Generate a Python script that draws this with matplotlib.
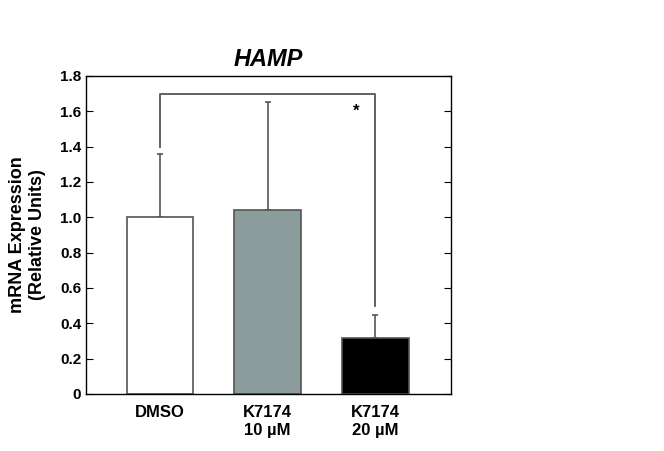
import numpy as np
import matplotlib.pyplot as plt

plt.rcParams['font.family'] = ['Liberation Sans', 'DejaVu Sans']
plt.rcParams['font.weight'] = 'bold'

labels = ['DMSO', 'K7174\n10 \u00b5M', 'K7174\n20 \u00b5M']
values = [1.0, 1.04, 0.315]
errors = [0.36, 0.61, 0.13]
colors = ['white', '#8c9c9c', 'black']

fig = plt.figure(figsize=(6.64, 4.51), dpi=100)
ax = fig.add_axes([0.1295, 0.1264, 0.5495, 0.7051])
x = np.arange(len(values))
ax.bar(x, values, width=0.62, color=colors, edgecolor='#555555', linewidth=1.2, zorder=2)
ax.errorbar(x, values, yerr=[np.zeros(3), errors], fmt='none', ecolor='#555555',
            elinewidth=1.2, capsize=2, capthick=1.2, zorder=1)

# significance bracket DMSO vs K7174 20 uM
ax.plot([0, 0, 2, 2], [1.40, 1.70, 1.70, 0.50], color='#555555', lw=1.3, zorder=1)
ax.text(1.82, 1.60, '*', ha='center', va='center', fontsize=12, fontweight='bold')

ax.set_xlim(-0.687, 0.703 + 2)
ax.set_ylim(0, 1.8)
ax.set_yticks(np.arange(0, 1.81, 0.2))
ax.set_yticklabels(['0', '0.2', '0.4', '0.6', '0.8', '1.0', '1.2', '1.4', '1.6', '1.8'])
ax.set_xticks(x)
ax.set_xticklabels(labels, fontsize=12, fontweight='bold', linespacing=1.25)
ax.tick_params(axis='x', length=0, pad=8)
ax.tick_params(axis='y', direction='in', right=True, length=5, labelsize=11)
for s in ax.spines.values():
    s.set_linewidth(1.0)
ax.set_ylabel('mRNA Expression\n(Relative Units)', fontsize=13, fontweight='bold', labelpad=10)
ax.set_title('HAMP', fontsize=17, fontweight='bold', style='italic', pad=7)

fig.savefig('out.png', dpi=100)
